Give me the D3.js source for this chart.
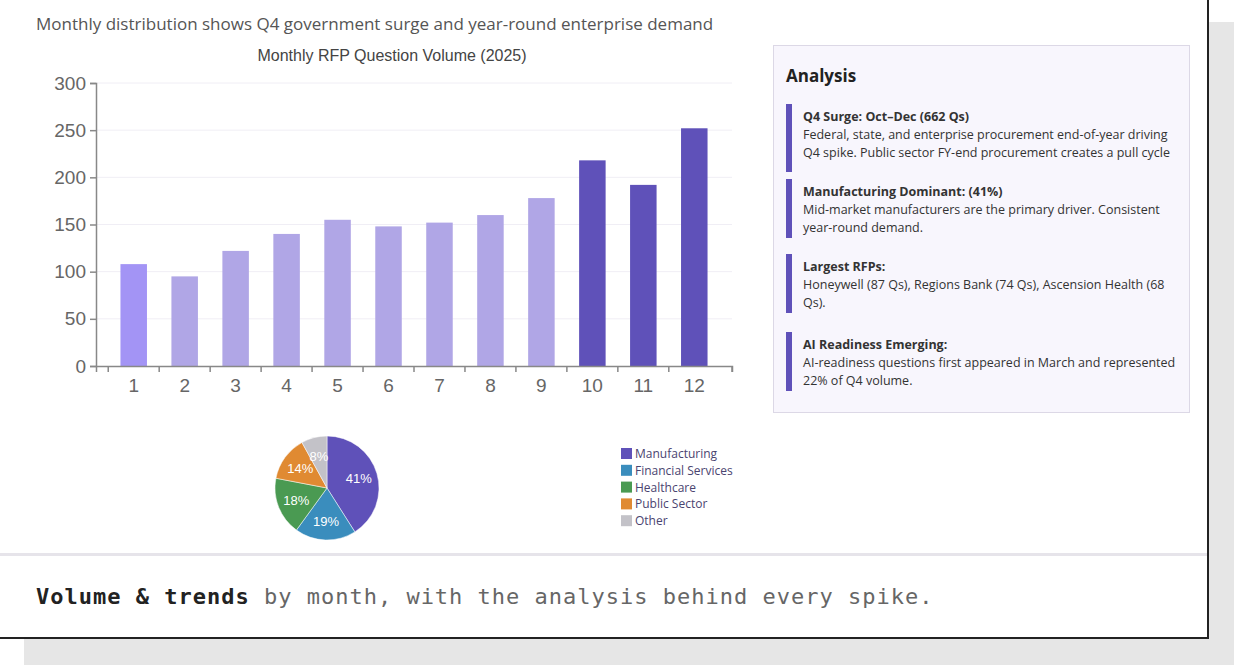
<!DOCTYPE html>
<html><head><meta charset="utf-8">
<script src="https://cdn.jsdelivr.net/npm/d3@7"></script>
<style>
body{margin:0;width:1234px;height:665px;background:#fff;position:relative;overflow:hidden;font-family:"Open Sans",sans-serif}
#shadow{position:absolute;left:24px;top:22px;width:1210px;height:643px;background:#e6e6e6}
#card{position:absolute;left:0;top:0;width:1207px;height:637px;background:#fff;border:2px solid #222;border-top:none;border-left:none}
#head{position:absolute;left:36px;top:12px;font-size:17px;color:#555}
#sep{position:absolute;left:0;top:553px;width:1207px;height:3px;background:#e6e4ea}
#foot{position:absolute;left:36px;top:584px;font-family:"DejaVu Sans Mono",monospace;font-size:22px;color:#666;letter-spacing:1px}
#foot b{color:#222}
#panel{position:absolute;left:773px;top:45px;width:417px;height:368px;background:#f8f6fd;border:1px solid #dcd8e6;box-sizing:border-box}
#panel h3{margin:0;position:absolute;left:12px;top:18px;font-size:17px;color:#222}
.item{position:absolute;left:12px;width:390px;border-left:6px solid #5f51b9;padding-left:11px;font-size:12.5px;color:#333;line-height:18px;box-sizing:border-box}
.item b{display:block}
#chart{position:absolute;left:0;top:0}
</style></head><body>
<div id="shadow"></div><div id="card"></div>
<div id="head">Monthly distribution shows Q4 government surge and year-round enterprise demand</div>
<div id="sep"></div>
<div id="foot"><b>Volume &amp; trends</b> by month, with the analysis behind every spike.</div>
<div id="panel"><h3>Analysis</h3></div>
<svg id="chart" width="770" height="550"></svg>
<script>
const months = [1,2,3,4,5,6,7,8,9,10,11,12];
const volumes = [108,95,122,140,155,148,152,160,178,218,192,252];
const yTicks = [0,50,100,150,200,250,300];
const sectors = ["Manufacturing","Financial Services","Healthcare","Public Sector","Other"];
const shares = [41,19,18,14,8];
const sectorColors = ["#5f51b9","#3a8dbd","#4a9a52","#e08a32","#c3c2c8"];
const notes = [
  ["Q4 Surge: Oct\u2013Dec (662 Qs)","Federal, state, and enterprise procurement end-of-year driving Q4 spike. Public sector FY-end procurement creates a pull cycle",103],
  ["Manufacturing Dominant: (41%)","Mid-market manufacturers are the primary driver. Consistent year-round demand.",178],
  ["Largest RFPs:","Honeywell (87 Qs), Regions Bank (74 Qs), Ascension Health (68 Qs).",253],
  ["AI Readiness Emerging:","AI-readiness questions first appeared in March and represented 22% of Q4 volume.",331]
];

const panel = d3.select("#panel");
notes.forEach(n => {
  const d = panel.append("div").attr("class","item").style("top",(n[2]-45)+"px");
  d.append("b").text(n[0]);
  d.append("span").text(n[1]);
  d.style("height", (n[0].startsWith("Q4") ? 68 : 59) + "px").style("padding-top","4px");
});

const svg = d3.select("#chart");
const x = d3.scaleBand().domain(months).range([96,732]).padding(0.48);
const y = d3.scaleLinear().domain([0,300]).range([366,83]);

svg.append("text").attr("x",392).attr("y",61).attr("text-anchor","middle")
  .attr("font-family","Liberation Sans, Arial").attr("font-size",16).attr("fill","#444")
  .text("Monthly RFP Question Volume (2025)");

svg.append("g").selectAll("line").data(yTicks.slice(1)).join("line")
  .attr("x1",96).attr("x2",732).attr("y1",d=>y(d)).attr("y2",d=>y(d))
  .attr("stroke","#f0eef5");

svg.append("g").selectAll("rect").data(volumes).join("rect")
  .attr("x",(d,i)=>x(months[i])).attr("width",x.bandwidth())
  .attr("y",d=>y(d)).attr("height",d=>y(0)-y(d))
  .attr("fill",(d,i)=> i===0 ? "#a394f5" : i>=9 ? "#5f51b9" : "#b0a6e6");

const ya = svg.append("g").attr("transform","translate(96,0)")
  .call(d3.axisLeft(y).tickValues(yTicks).tickSize(6).tickPadding(4));
const xa = svg.append("g").attr("transform","translate(0,366)")
  .call(d3.axisBottom(x).tickSize(6).tickPadding(7));
[ya,xa].forEach(a=>{
  a.selectAll("path,line").attr("stroke","#888").attr("stroke-width",1.5);
  a.selectAll("text").attr("font-family","Liberation Sans, Arial").attr("font-size",19).attr("fill","#666");
});
// ticks at band edges like the reference
xa.selectAll(".tick line").attr("transform",`translate(${-x.step()/2},0)`);
xa.append("line").attr("x1",732).attr("x2",732).attr("y1",0).attr("y2",6).attr("stroke","#888").attr("stroke-width",1.5);

// pie
const pie = d3.pie().sort(null)(shares);
const arc = d3.arc().innerRadius(0).outerRadius(52);
const lab = d3.arc().innerRadius(33).outerRadius(33);
const pg = svg.append("g").attr("transform","translate(327,488)");
pg.selectAll("path").data(pie).join("path").attr("d",arc)
  .attr("fill",(d,i)=>sectorColors[i]).attr("stroke","#fff").attr("stroke-width",0.5);
pg.selectAll("text").data(pie).join("text")
  .attr("transform",d=>`translate(${lab.centroid(d)})`).attr("text-anchor","middle").attr("dy","0.35em")
  .attr("font-family","Liberation Sans, Arial").attr("font-size",13).attr("fill","#fff")
  .text(d=>d.data+"%");

const lg = svg.append("g").attr("transform","translate(621,448)");
sectors.forEach((s,i)=>{
  const r = lg.append("g").attr("transform",`translate(0,${i*16.8})`);
  r.append("rect").attr("width",11).attr("height",11).attr("fill",sectorColors[i]);
  r.append("text").attr("x",14).attr("y",10).attr("font-size",12).attr("fill","#4a4470").text(s);
});
</script>
</body></html>
